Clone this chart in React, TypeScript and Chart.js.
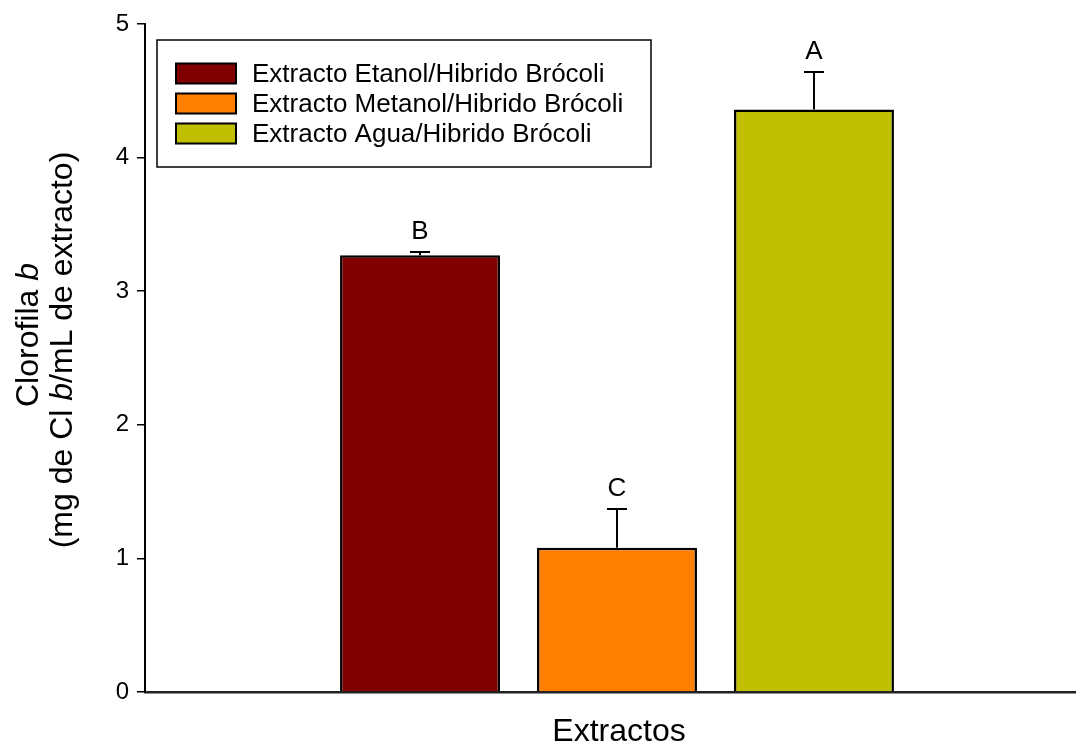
import React, { useEffect, useRef } from "react";
import { Chart, registerables } from "chart.js";

Chart.register(...registerables);

// Chlorophyll b content per extract
const seriesLabels = [
  "Extracto Etanol/Hibrido Brócoli",
  "Extracto Metanol/Hibrido Brócoli",
  "Extracto Agua/Hibrido Brócoli",
];
const means = [3.27, 1.08, 4.36];
const errors = [0.02, 0.29, 0.28];
const letters = ["B", "C", "A"];
const colors = ["#800000", "#FF8000", "#C0C000"];
const categories = ["Extractos"];
const yTicks = [0, 1, 2, 3, 4, 5];

const FONT = "'Liberation Sans', Arial, sans-serif";

// Error bars, significance letters, legend and axis titles
const decorations = {
  id: "decorations",
  afterDatasetsDraw(chart: any) {
    const ctx = chart.ctx as CanvasRenderingContext2D;
    const y = chart.scales.y;

    ctx.save();
    // error bars + letters
    chart.data.datasets.forEach((_ds: any, i: number) => {
      const meta = chart.getDatasetMeta(i);
      const bar = meta.data[0];
      const x = Math.round(bar.x);
      const top = y.getPixelForValue(means[i]);
      const capY = Math.round(y.getPixelForValue(means[i] + errors[i]));
      ctx.strokeStyle = "#000";
      ctx.lineWidth = 2;
      ctx.beginPath();
      ctx.moveTo(x, top);
      ctx.lineTo(x, capY);
      ctx.moveTo(x - 10, capY);
      ctx.lineTo(x + 10, capY);
      ctx.stroke();

      ctx.fillStyle = "#000";
      ctx.font = `26px ${FONT}`;
      ctx.textAlign = "center";
      ctx.textBaseline = "alphabetic";
      ctx.fillText(letters[i], x, capY - 13);
    });

    // legend box
    const lx = 157, ly = 40, lw = 494, lh = 127;
    ctx.fillStyle = "#fff";
    ctx.fillRect(lx, ly, lw, lh);
    ctx.strokeStyle = "#000";
    ctx.lineWidth = 1.5;
    ctx.strokeRect(lx, ly, lw, lh);
    seriesLabels.forEach((label, i) => {
      const cy = 73.5 + i * 30;
      ctx.fillStyle = colors[i];
      ctx.fillRect(176, cy - 10, 60, 20);
      ctx.strokeStyle = "#000";
      ctx.lineWidth = 2;
      ctx.strokeRect(176, cy - 10, 60, 20);
      ctx.fillStyle = "#000";
      ctx.font = `26px ${FONT}`;
      ctx.textAlign = "left";
      ctx.textBaseline = "middle";
      ctx.fillText(label, 252, cy + 1);
    });

    // x axis title
    ctx.fillStyle = "#000";
    ctx.font = `32px ${FONT}`;
    ctx.textAlign = "center";
    ctx.textBaseline = "middle";
    ctx.fillText("Extractos", 619, 732);

    // y axis title (two lines, italic "b")
    const drawRich = (parts: [string, boolean][], cx: number, cy: number) => {
      ctx.save();
      ctx.translate(cx, cy);
      ctx.rotate(-Math.PI / 2);
      ctx.textBaseline = "middle";
      ctx.textAlign = "left";
      let total = 0;
      const widths = parts.map(([t, it]) => {
        ctx.font = `${it ? "italic " : ""}32px ${FONT}`;
        const w = ctx.measureText(t).width;
        total += w;
        return w;
      });
      let px = -total / 2;
      parts.forEach(([t, it], k) => {
        ctx.font = `${it ? "italic " : ""}32px ${FONT}`;
        ctx.fillText(t, px, 0);
        px += widths[k];
      });
      ctx.restore();
    };
    drawRich([["Clorofila ", false], ["b", true]], 29, 335);
    drawRich(
      [["(mg de Cl ", false], ["b", true], ["/mL de extracto)", false]],
      63,
      350
    );
    ctx.restore();
  },
};

export default function App() {
  const canvasRef = useRef<HTMLCanvasElement | null>(null);

  useEffect(() => {
    const canvas = canvasRef.current;
    if (!canvas) return;
    const chart = new Chart(canvas, {
      type: "bar",
      data: {
        labels: categories,
        datasets: seriesLabels.map((label, i) => ({
          label,
          data: [means[i]],
          backgroundColor: colors[i],
          borderColor: "#000",
          borderWidth: 2.5,
          categoryPercentage: 0.626,
          barPercentage: 0.812,
        })),
      },
      options: {
        animation: false,
        responsive: false,
        maintainAspectRatio: false,
        layout: { padding: { left: 0, right: 1, top: 24, bottom: 0 } },
        plugins: {
          legend: { display: false },
          tooltip: { enabled: false },
        },
        scales: {
          x: {
            grid: { display: false },
            border: { display: true, color: "#222", width: 2.5 },
            ticks: { display: false },
            afterFit(scale: any) {
              scale.height = 52;
            },
          },
          y: {
            min: 0,
            max: 5,
            afterBuildTicks(scale: any) {
              scale.ticks = yTicks.map((v) => ({ value: v }));
            },
            grid: {
              drawOnChartArea: false,
              drawTicks: true,
              tickLength: 8,
              color: "#000",
              lineWidth: 1.5,
            },
            border: { display: true, color: "#000", width: 2 },
            ticks: {
              color: "#000",
              padding: 8,
              font: { size: 24, family: FONT },
            },
            afterFit(scale: any) {
              scale.width = 145;
            },
          },
        },
      },
      plugins: [decorations],
    });
    return () => chart.destroy();
  }, []);

  return (
    <div
      style={{
        position: "fixed",
        left: 0,
        top: 0,
        width: 1076,
        height: 744,
        overflow: "hidden",
        background: "#fff",
      }}
    >
      <canvas ref={canvasRef} width={1090} height={744} style={{ display: "block" }} />
    </div>
  );
}
